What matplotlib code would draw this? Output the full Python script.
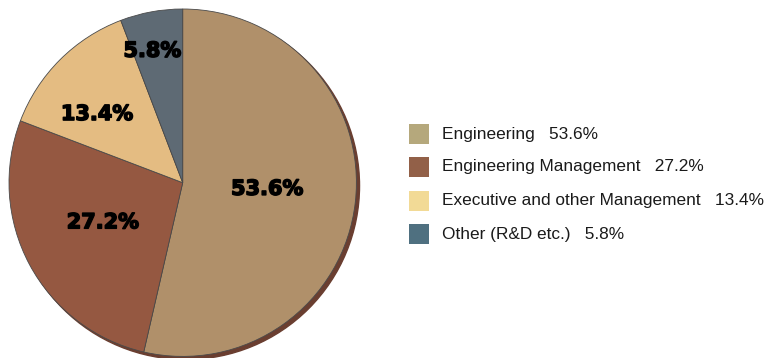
import numpy as np
import matplotlib.pyplot as plt
import matplotlib.patheffects as pe
from matplotlib.patches import Circle, Rectangle

# data
categories = ['Engineering', 'Engineering Management',
              'Executive and other Management', 'Other (R&D etc.)']
shares = [53.6, 27.2, 13.4, 5.8]

# styling
pie_colors = ['#B0906A', '#955841', '#E4BC82', '#5E6A74']
legend_colors = ['#B5A87C', '#926048', '#F2DA96', '#4F7080']
label_radius = [0.488, 0.513, 0.632, 0.779]
label_shift = [2.3, -1.7, 6.3, 2.5]

fig = plt.figure(figsize=(7.68, 3.58), dpi=100)
W, H = 768, 358
R = 173.7
cx, cy = 182.7, 182.7

ax = fig.add_axes([(cx - R) / W, (H - cy - R) / H, 2 * R / W, 2 * R / H])

# drop shadow behind the pie
ax.add_patch(Circle((0.018, -0.018), 1.0, color='#6A3E30', zorder=0, clip_on=False))

wedges, _, autotexts = ax.pie(shares, colors=pie_colors, startangle=90, counterclock=False,
                              radius=1.0, autopct='%.1f%%', pctdistance=0.5,
                              wedgeprops=dict(edgecolor='#4A4A4A', linewidth=0.6),
                              textprops=dict(fontsize=15, fontweight='heavy', color='black',
                                             family='DejaVu Sans'))
ax.set_xlim(-1, 1)
ax.set_ylim(-1, 1)
ax.set_aspect('equal')
ax.axis('off')

for w in wedges:
    w.set_zorder(1)
    w.set_clip_on(False)

# heavier look for the slice labels
for w, t, r, s in zip(wedges, autotexts, label_radius, label_shift):
    mid = np.deg2rad((w.theta1 + w.theta2) / 2 + s)
    t.set_position((r * np.cos(mid), r * np.sin(mid)))
    t.set_ha('center')
    t.set_va('center')
    t.set_zorder(3)
    t.set_path_effects([pe.withStroke(linewidth=1.1, foreground='black')])

# legend drawn by hand
box_x, box_w = 409, 20
text_x = 442
row_y = [134, 167, 201, 234]
for name, val, col, y in zip(categories, shares, legend_colors, row_y):
    fig.add_artist(Rectangle((box_x / W, (H - y - box_w / 2) / H), box_w / W, box_w / H,
                             transform=fig.transFigure, facecolor=col, edgecolor='none'))
    fig.text(text_x / W, (H - y) / H, f'{name}   {val:.1f}%', fontsize=12.4,
             family='Liberation Sans', color='#1A1A1A', ha='left', va='center')

fig.savefig('out.png', dpi=100)
